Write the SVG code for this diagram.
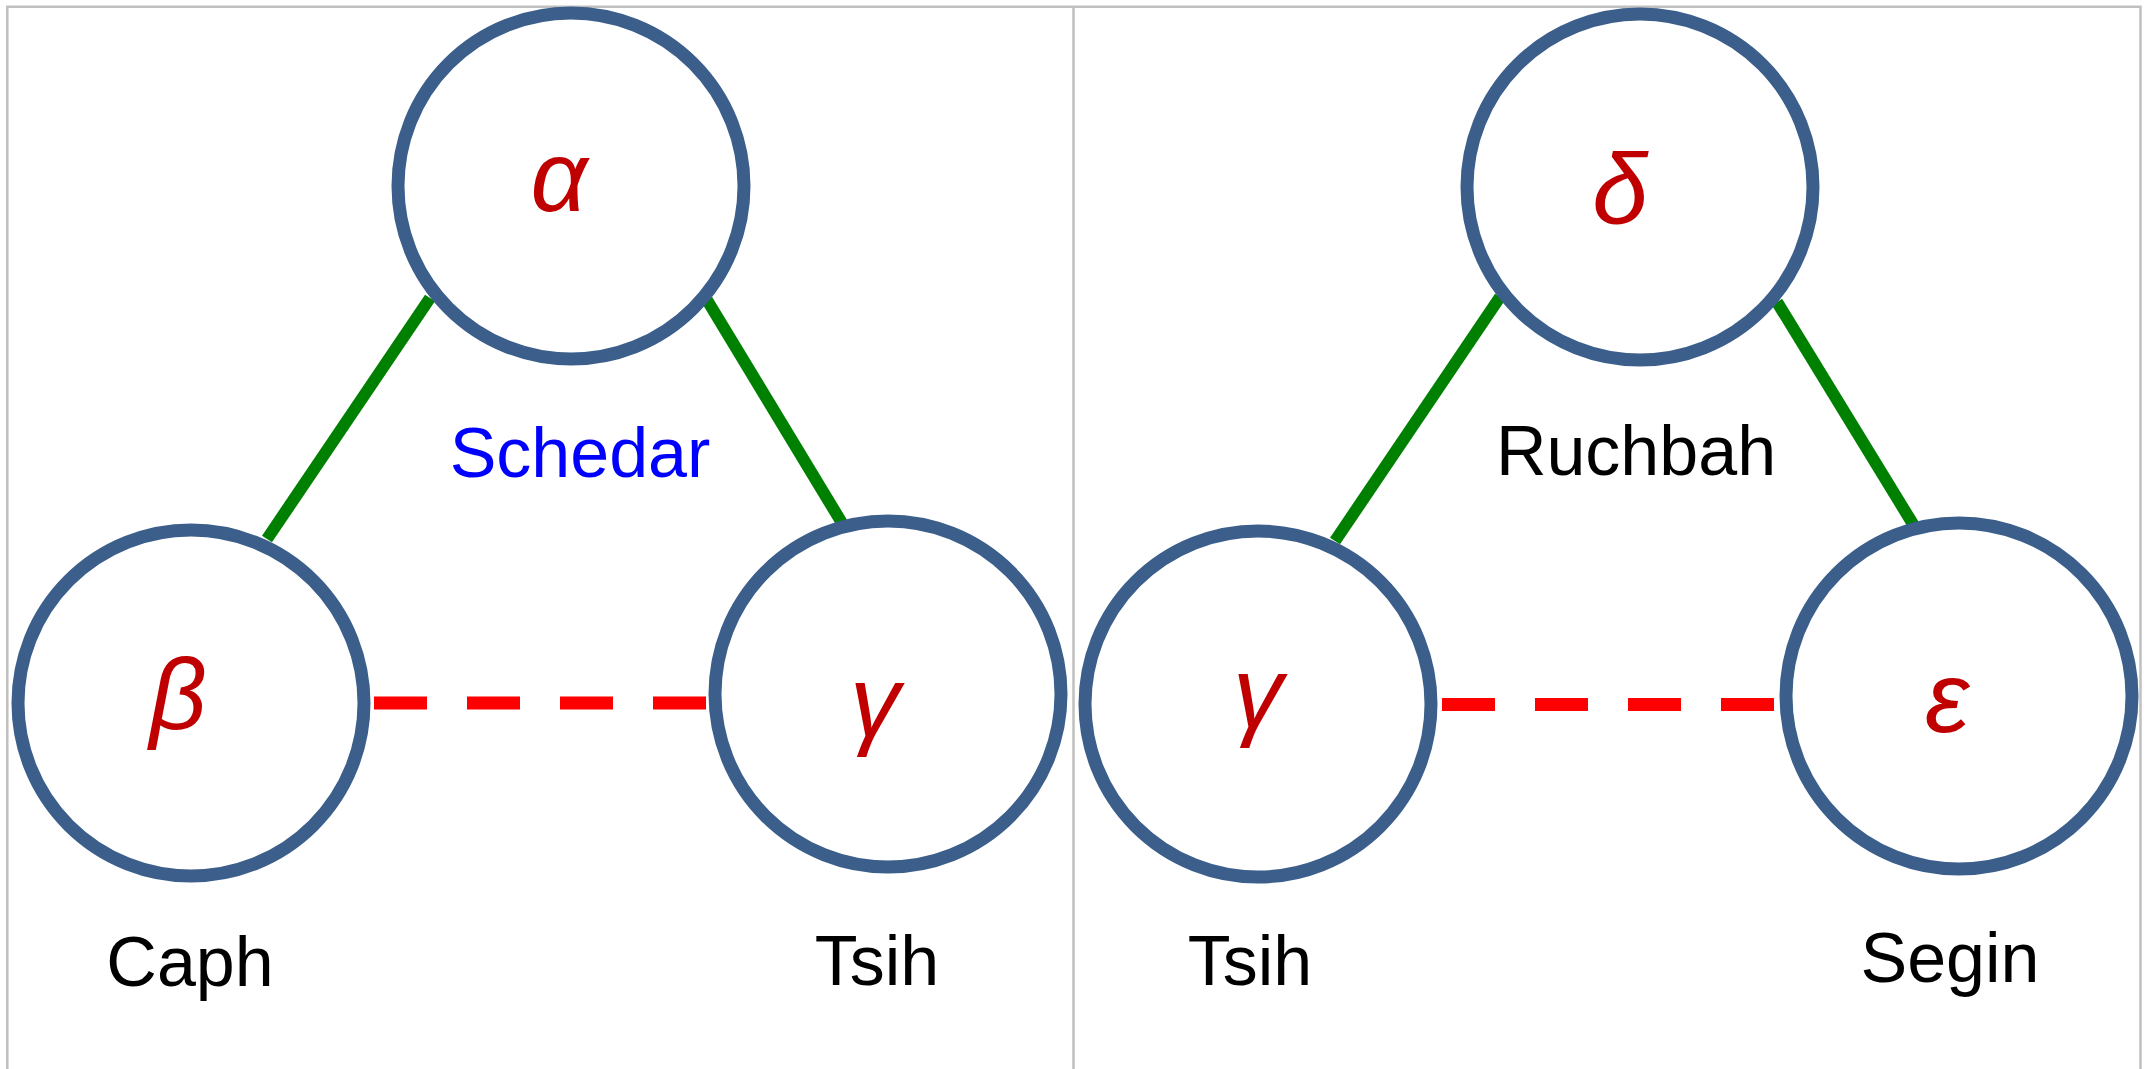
<svg xmlns="http://www.w3.org/2000/svg" width="2147" height="1069" viewBox="0 0 2147 1069">
<style>
.frame{fill:none;stroke:#C0C0C0;stroke-width:2.5}
.node{fill:#FFFFFF;stroke:#3B5E8B;stroke-width:13}
.solid{stroke:#008000;stroke-width:12;stroke-linecap:butt}
.dash{stroke:#FF0000;stroke-width:13;stroke-dasharray:53 40}
.greek{font-family:"Liberation Sans",Arial,sans-serif;font-style:italic;font-size:100px;fill:#C00000;text-anchor:middle}
.name{font-family:"Liberation Sans",Arial,sans-serif;font-size:70px;fill:#000000;text-anchor:middle}
.blue{fill:#0000FF}
</style>
<rect width="2147" height="1069" fill="#FFFFFF"/>
<g id="frame">
<path class="frame" d="M7.3 1069 V6.7 H2140.5 V1069 M1073.5 6.7 V1069"/>
</g>
<g id="connectors">
<line class="solid" x1="430" y1="298" x2="267" y2="539"/>
<line class="solid" x1="707" y1="300" x2="845" y2="528"/>
<line class="dash" x1="374" y1="703" x2="707" y2="703"/>
<line class="solid" x1="1500" y1="297" x2="1335" y2="541"/>
<line class="solid" x1="1777" y1="302" x2="1916" y2="529"/>
<line class="dash" x1="1442" y1="704.5" x2="1777" y2="704.5"/>
</g>
<g id="node-alpha">
<circle class="node" cx="571" cy="186" r="173"/>
<text class="greek" x="559" y="211">α</text>
</g>
<g id="node-beta">
<circle class="node" cx="191" cy="703" r="173"/>
<text class="greek" x="178" y="729">β</text>
</g>
<g id="node-gamma-left">
<circle class="node" cx="888" cy="694" r="173"/>
<text class="greek" x="875" y="736">γ</text>
</g>
<g id="node-delta">
<circle class="node" cx="1640" cy="187" r="173"/>
<text class="greek" x="1620" y="224">δ</text>
</g>
<g id="node-gamma-right">
<circle class="node" cx="1258" cy="704" r="173"/>
<text class="greek" x="1258" y="727">γ</text>
</g>
<g id="node-epsilon">
<circle class="node" cx="1959" cy="696" r="173"/>
<text class="greek" x="1947" y="732">ε</text>
</g>
<g id="labels">
<text class="name blue" x="580" y="477">Schedar</text>
<text class="name" x="1636" y="475">Ruchbah</text>
<text class="name" x="190" y="986">Caph</text>
<text class="name" x="877" y="985">Tsih</text>
<text class="name" x="1250" y="985">Tsih</text>
<text class="name" x="1950" y="982">Segin</text>
</g>
</svg>
